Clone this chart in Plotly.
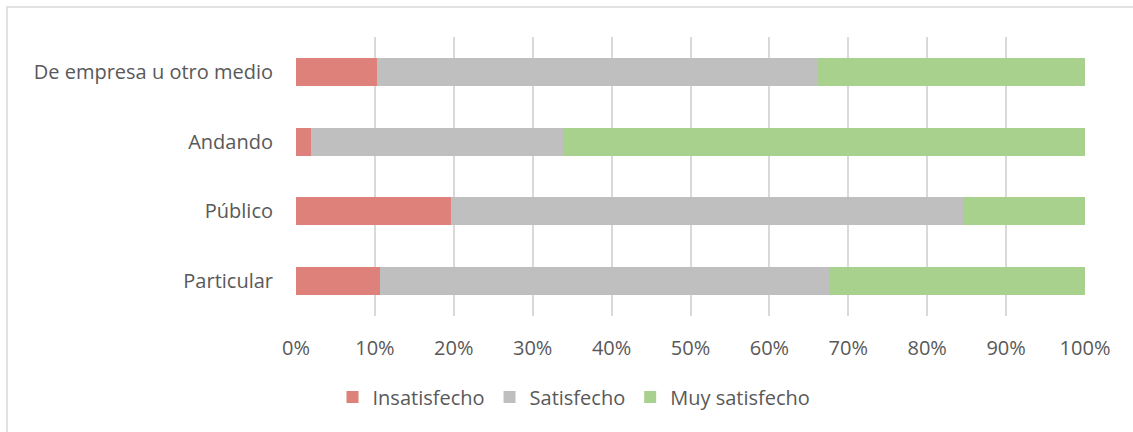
import plotly.graph_objects as go

# Datos (porcentajes por categoría, de abajo hacia arriba)
categorias = ['Particular', 'Público', 'Andando', 'De empresa u otro medio']
insatisfecho = [10.6, 19.7, 1.9, 10.3]
satisfecho = [57.0, 64.8, 32.0, 55.9]
muy_satisfecho = [32.4, 15.5, 66.1, 33.8]

ticks_x = [0, 10, 20, 30, 40, 50, 60, 70, 80, 90, 100]
ticks_txt = [f'{t}%' for t in ticks_x]

fig = go.Figure()
fig.add_trace(go.Bar(y=categorias, x=insatisfecho, name='Insatisfecho',
                     orientation='h', marker_color='#de817a', marker_line_width=0))
fig.add_trace(go.Bar(y=categorias, x=satisfecho, name='Satisfecho',
                     orientation='h', marker_color='#bfbfbf', marker_line_width=0))
fig.add_trace(go.Bar(y=categorias, x=muy_satisfecho, name='Muy satisfecho',
                     orientation='h', marker_color='#a9d18e', marker_line_width=0))

W, H = 1133, 432
L, R, T, B = 296, 48, 37, 116
pw, ph = W - L - R, H - T - B

# Borde del gráfico (como en Excel)
fig.add_shape(type='rect', xref='paper', yref='paper',
              x0=(7 - L) / pw, x1=(W + 10 - L) / pw,
              y0=(H - B - (H + 10)) / ph, y1=(H - B - 7) / ph,
              line=dict(color='#d9d9d9', width=1.5), fillcolor='rgba(0,0,0,0)', layer='below')

fig.update_layout(
    barmode='stack',
    bargap=0.6,
    width=W, height=H,
    margin=dict(l=L, r=R, t=T, b=B),
    paper_bgcolor='white', plot_bgcolor='white',
    font=dict(family='Open Sans', size=20, color='#595959'),
    xaxis=dict(range=[0, 100], tickvals=ticks_x, ticktext=ticks_txt,
               showgrid=True, gridcolor='#d9d9d9', gridwidth=1.5,
               zeroline=False, showline=False, ticks='', ticklabelstandoff=18),
    yaxis=dict(showgrid=False, zeroline=False, showline=False, ticks='',
               ticklabelstandoff=22),
    legend=dict(orientation='h', x=(574 - L) / pw, xanchor='center',
                y=-0.22, yanchor='top',
                font=dict(size=20), itemwidth=30, traceorder='normal'),
    showlegend=True,
)

fig.write_html('out.html', config={'displayModeBar': False},
               post_script="document.body.style.margin='0';")
